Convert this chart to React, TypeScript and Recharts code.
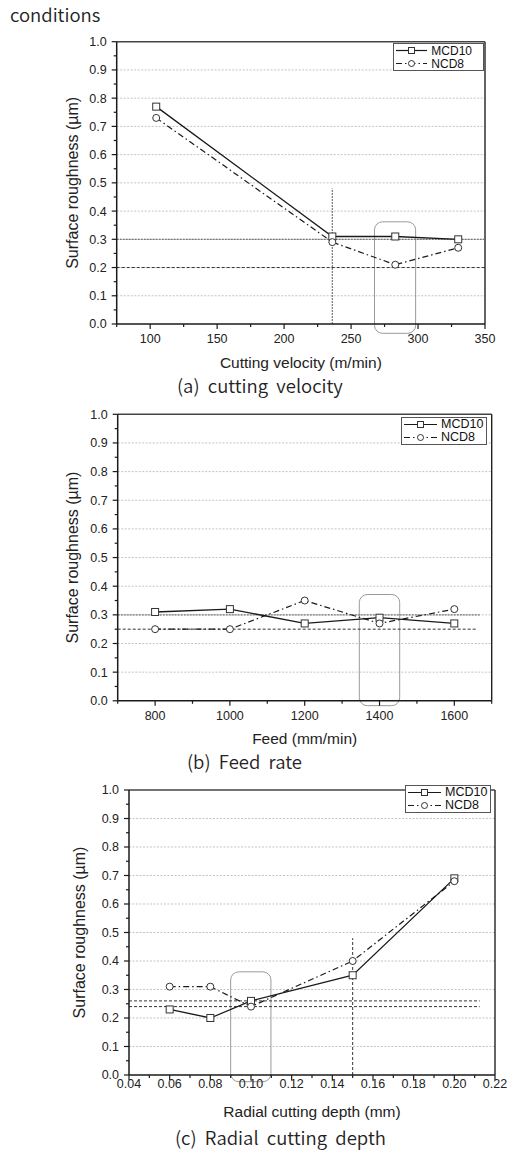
import React from 'react';
import { LineChart, Line, XAxis, YAxis, CartesianGrid, ReferenceLine, ReferenceArea, Legend, Label } from 'recharts';

// ---------- data ----------
const seriesNames = ['MCD10', 'NCD8'];

// (a) cutting velocity
const velocity = [104.5, 236, 283, 330];
const velMCD10 = [0.77, 0.31, 0.31, 0.30];
const velNCD8 = [0.73, 0.29, 0.21, 0.27];
const velTicks = [100, 150, 200, 250, 300, 350];
const velMinor = [75, 125, 175, 225, 275, 325];

// (b) feed rate
const feed = [800, 1000, 1200, 1400, 1600];
const feedMCD10 = [0.31, 0.32, 0.27, 0.29, 0.27];
const feedNCD8 = [0.25, 0.25, 0.35, 0.27, 0.32];
const feedTicks = [800, 1000, 1200, 1400, 1600];
const feedMinor = [700, 900, 1100, 1300, 1500, 1700];

// (c) radial cutting depth
const depth = [0.06, 0.08, 0.10, 0.15, 0.20];
const depthMCD10 = [0.23, 0.20, 0.26, 0.35, 0.69];
const depthNCD8 = [0.31, 0.31, 0.24, 0.40, 0.68];
const depthTicks = [0.04, 0.06, 0.08, 0.10, 0.12, 0.14, 0.16, 0.18, 0.20, 0.22];
const depthMinor = [0.05, 0.07, 0.09, 0.11, 0.13, 0.15, 0.17, 0.19, 0.21];

const yTicks = [0, 0.1, 0.2, 0.3, 0.4, 0.5, 0.6, 0.7, 0.8, 0.9, 1.0];
const yMinor = [0.05, 0.15, 0.25, 0.35, 0.45, 0.55, 0.65, 0.75, 0.85, 0.95];

const captions = ['(a)  cutting  velocity', '(b)  Feed  rate', '(c)  Radial  cutting  depth'];

const rows = (xs: number[], a: number[], b: number[]) => xs.map((x, i) => ({ x, mcd: a[i], ncd: b[i] }));
const velData = rows(velocity, velMCD10, velNCD8);
const feedData = rows(feed, feedMCD10, feedNCD8);
const depthData = rows(depth, depthMCD10, depthNCD8);

// ---------- styling ----------
const FONT = '"Liberation Sans", Arial, sans-serif';
const TS = 5;
const TM = 3;
const INK = '#1a1a1a';
const DASHDOT = '6 3 1.5 3';

const near = (arr: number[], v: number) => arr.some((m) => Math.abs(m - v) < 1e-9);

function XTick(props: any) {
  const { x, y, payload, major, fmt, gap } = props;
  const v = payload.value;
  const isMajor = near(major, v);
  const axisY = y - TS - TM;
  return (
    <g>
      <line x1={x} x2={x} y1={axisY} y2={axisY + (isMajor ? 5 : 3)} stroke={INK} strokeWidth={1.2} />
      {isMajor && (
        <text x={x} y={axisY + gap} dy="0.71em" textAnchor="middle" fontSize={12.5} fill="#222" fontFamily={FONT}>
          {fmt(v)}
        </text>
      )}
    </g>
  );
}

function YTick(props: any) {
  const { x, y, payload } = props;
  const v = payload.value;
  const isMajor = near(yTicks, v);
  const axisX = x + TS + TM;
  return (
    <g>
      <line x1={axisX} x2={axisX - (isMajor ? 5 : 3)} y1={y} y2={y} stroke={INK} strokeWidth={1.2} />
      {isMajor && (
        <text x={axisX - 10} y={y} dy="0.355em" textAnchor="end" fontSize={12.5} fill="#222" fontFamily={FONT}>
          {v.toFixed(1)}
        </text>
      )}
    </g>
  );
}

function SquareDot(props: any) {
  const { cx, cy } = props;
  if (cx == null || cy == null) return <g />;
  return <rect x={cx - 3.5} y={cy - 3.5} width={7} height={7} fill="#fff" stroke="#333" strokeWidth={1} />;
}

function CircleDot(props: any) {
  const { cx, cy } = props;
  if (cx == null || cy == null) return <g />;
  return <circle cx={cx} cy={cy} r={3.5} fill="#fff" stroke="#333" strokeWidth={1} />;
}

function LegendBox(props: any) {
  const { w, h, sampleW, fontSize } = props;
  const rowH = (h - 2) / 2;
  const mid = sampleW / 2;
  const sample = (i: number) => (
    <svg width={sampleW} height={rowH} style={{ display: 'block', flex: 'none' }}>
      <line
        x1={1}
        x2={sampleW - 1}
        y1={rowH / 2}
        y2={rowH / 2}
        stroke={INK}
        strokeWidth={1.2}
        strokeDasharray={i === 1 ? '6 3 1.5 3' : undefined}
      />
      {i === 0 ? (
        <rect x={mid - 3} y={rowH / 2 - 3} width={6} height={6} fill="#fff" stroke="#333" />
      ) : (
        <circle cx={mid} cy={rowH / 2} r={3} fill="#fff" stroke="#333" />
      )}
    </svg>
  );
  return (
    <div
      style={{
        width: w,
        height: h,
        boxSizing: 'border-box',
        border: '1px solid #555',
        background: '#fff',
        fontFamily: FONT,
        fontSize,
        lineHeight: 1,
        color: '#111',
        overflow: 'hidden',
      }}
    >
      {seriesNames.map((n, i) => (
        <div key={n} style={{ display: 'flex', alignItems: 'center', height: rowH, paddingLeft: 1, overflow: 'hidden' }}>
          {sample(i)}
          <span style={{ marginLeft: 3, lineHeight: 1 }}>{n}</span>
        </div>
      ))}
    </div>
  );
}

type PanelProps = {
  top: number;
  height: number;
  margin: { top: number; right: number; left: number; bottom: number };
  yWidth: number;
  xHeight: number;
  data: any[];
  domain: [number, number];
  major: number[];
  minor: number[];
  fmt: (v: number) => string;
  gap: number;
  xLabel: string;
  legend: { left: number; top: number; w: number; h: number; sampleW: number; fontSize: number };
  children?: React.ReactNode;
};

function Panel(p: PanelProps) {
  const allTicks = [...p.major, ...p.minor].sort((a, b) => a - b);
  return (
    <div style={{ position: 'absolute', left: 0, top: p.top, width: 511, height: p.height }}>
      <LineChart width={511} height={p.height} data={p.data} margin={p.margin}>
        <CartesianGrid vertical={false} horizontalValues={yTicks.slice(1, -1)} stroke="#b5b5b5" strokeDasharray="2 1.5" strokeWidth={0.8} />
        <XAxis
          dataKey="x"
          type="number"
          domain={p.domain}
          ticks={allTicks}
          interval={0}
          height={p.xHeight}
          tickSize={TS}
          tickMargin={TM}
          tickLine={false}
          axisLine={{ stroke: INK, strokeWidth: 1.5 }}
          tick={<XTick major={p.major} fmt={p.fmt} gap={p.gap} />}
          allowDataOverflow
        >
          <Label value={p.xLabel} position="center" fontSize={15.5} fill="#222" fontFamily={FONT} />
        </XAxis>
        <YAxis
          type="number"
          domain={[0, 1]}
          ticks={[...yTicks, ...yMinor].sort((a, b) => a - b)}
          interval={0}
          width={p.yWidth}
          tickSize={TS}
          tickMargin={TM}
          tickLine={false}
          axisLine={{ stroke: INK, strokeWidth: 1.5 }}
          tick={<YTick />}
        >
          <Label value="Surface roughness (µm)" position="center" angle={-90} fontSize={16} fill="#222" fontFamily={FONT} />
        </YAxis>
        <ReferenceLine y={1} stroke="#444" strokeWidth={1.6} />
        <ReferenceLine x={p.domain[1]} stroke="#222" strokeWidth={1.4} />
        {p.children}
        <Legend
          layout="horizontal"
          verticalAlign="middle"
          align="center"
          wrapperStyle={{ left: p.legend.left, top: p.legend.top, width: p.legend.w, height: p.legend.h }}
          content={<LegendBox w={p.legend.w} h={p.legend.h} sampleW={p.legend.sampleW} fontSize={p.legend.fontSize} />}
        />
        <Line
          dataKey="mcd"
          name={seriesNames[0]}
          stroke={INK}
          strokeWidth={1.3}
          dot={<SquareDot />}
          isAnimationActive={false}
        />
        <Line
          dataKey="ncd"
          name={seriesNames[1]}
          stroke={INK}
          strokeWidth={1.2}
          strokeDasharray={DASHDOT}
          dot={<CircleDot />}
          isAnimationActive={false}
        />
      </LineChart>
    </div>
  );
}

const roundRect = (props: any) => (
  <rect x={props.x} y={props.y} width={props.width} height={props.height} rx={8} ry={8} fill="none" stroke="#9a9a9a" strokeWidth={1} />
);

const captionStyle: React.CSSProperties = {
  position: 'absolute',
  fontFamily: '"Noto Sans CJK KR", "Noto Sans", sans-serif',
  fontWeight: 350,
  fontSize: 18.5,
  lineHeight: 1,
  color: '#222',
  whiteSpace: 'pre',
};

export default function App() {
  return (
    <div style={{ position: 'absolute', left: 0, top: 0, width: 511, height: 1150, background: '#fff', overflow: 'hidden' }}>
      <div style={{ ...captionStyle, left: 10, top: 5 }}>conditions</div>

      <Panel
        top={0}
        height={400}
        margin={{ top: 41.7, right: 26, left: 27.3, bottom: 0 }}
        yWidth={89.4}
        xHeight={76}
        data={velData}
        domain={[75, 350]}
        major={velTicks}
        minor={velMinor}
        fmt={(v) => String(v)}
        gap={10}
        xLabel="Cutting velocity (m/min)"
        legend={{ left: 393.3, top: 43.3, w: 91, h: 28, sampleW: 33, fontSize: 12 }}
      >
        <ReferenceLine y={0.3} stroke="#777" strokeWidth={1.3} strokeDasharray="2 1" />
        <ReferenceLine y={0.2} stroke="#333" strokeWidth={1} strokeDasharray="3 2" />
        <ReferenceLine segment={[{ x: 236, y: 0 }, { x: 236, y: 0.48 }]} stroke="#777" strokeWidth={1.2} strokeDasharray="2 1" />
        <ReferenceArea x1={267.5} x2={298.2} y1={-0.033} y2={0.362} ifOverflow="visible" shape={roundRect} />
      </Panel>
      <div style={{ ...captionStyle, left: 177, top: 376 }}>{captions[0]}</div>

      <Panel
        top={380}
        height={396}
        margin={{ top: 34.3, right: 19.3, left: 27.3, bottom: 0 }}
        yWidth={90.4}
        xHeight={75.2}
        data={feedData}
        domain={[700, 1700]}
        major={feedTicks}
        minor={feedMinor}
        fmt={(v) => String(v)}
        gap={10}
        xLabel="Feed (mm/min)"
        legend={{ left: 401, top: 36.7, w: 86, h: 28, sampleW: 35, fontSize: 12.5 }}
      >
        <ReferenceLine segment={[{ x: 700, y: 0.3 }, { x: 1668, y: 0.3 }]} stroke="#777" strokeWidth={1.3} strokeDasharray="2 1" />
        <ReferenceLine segment={[{ x: 700, y: 0.25 }, { x: 1660, y: 0.25 }]} stroke="#333" strokeWidth={1} strokeDasharray="3 2" />
        <ReferenceArea x1={1346} x2={1454} y1={-0.017} y2={0.371} ifOverflow="visible" shape={roundRect} />
      </Panel>
      <div style={{ ...captionStyle, left: 187, top: 752 }}>{captions[1]}</div>

      <Panel
        top={760}
        height={388.4}
        margin={{ top: 30, right: 16, left: 30, bottom: 0 }}
        yWidth={99}
        xHeight={73.4}
        data={depthData}
        domain={[0.04, 0.22]}
        major={depthTicks}
        minor={depthMinor}
        fmt={(v) => v.toFixed(2)}
        gap={4}
        xLabel="Radial cutting depth (mm)"
        legend={{ left: 405, top: 25, w: 86, h: 28, sampleW: 35, fontSize: 12.5 }}
      >
        <ReferenceLine segment={[{ x: 0.04, y: 0.26 }, { x: 0.2125, y: 0.26 }]} stroke="#333" strokeWidth={1} strokeDasharray="3 2" />
        <ReferenceLine segment={[{ x: 0.04, y: 0.24 }, { x: 0.2125, y: 0.24 }]} stroke="#333" strokeWidth={1} strokeDasharray="3 2" />
        <ReferenceLine segment={[{ x: 0.15, y: 0 }, { x: 0.15, y: 0.48 }]} stroke="#333" strokeWidth={1} strokeDasharray="3 2" />
        <ReferenceArea x1={0.09} x2={0.1098} y1={-0.0235} y2={0.362} ifOverflow="visible" shape={roundRect} />
      </Panel>
      <div style={{ ...captionStyle, left: 175, top: 1128 }}>{captions[2]}</div>
    </div>
  );
}
